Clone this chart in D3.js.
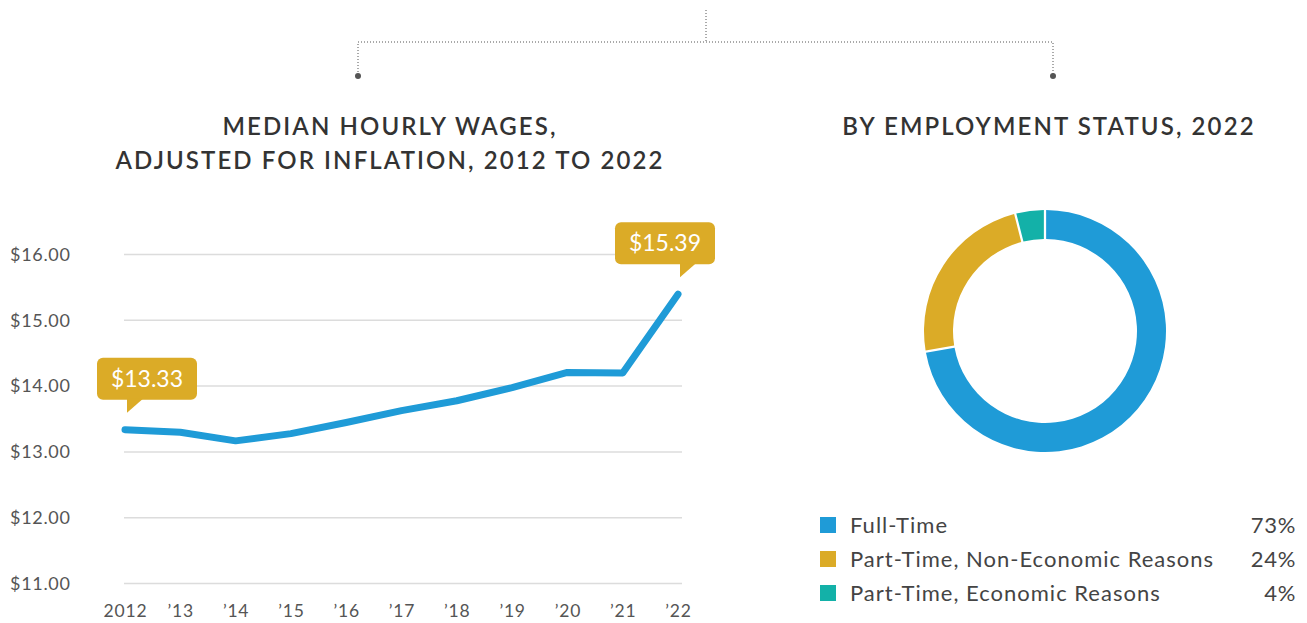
<!DOCTYPE html>
<html>
<head>
<meta charset="utf-8">
<script src="https://cdn.jsdelivr.net/npm/d3@7"></script>
<style>
  body { margin: 0; background: #fff; }
  svg text { font-family: Lato, "Open Sans", sans-serif; }
</style>
</head>
<body>
<div class="chart"></div>
<script>
// Data
var years = [2012, 2013, 2014, 2015, 2016, 2017, 2018, 2019, 2020, 2021, 2022];
var yearLabels = ["2012", "\u201913", "\u201914", "\u201915", "\u201916", "\u201917", "\u201918", "\u201919", "\u201920", "\u201921", "\u201922"];
var wages = [13.33, 13.29, 13.16, 13.27, 13.44, 13.62, 13.77, 13.97, 14.20, 14.19, 15.39];
var wageTicks = [11, 12, 13, 14, 15, 16];

var statusLabels = ["Full-Time", "Part-Time, Non-Economic Reasons", "Part-Time, Economic Reasons"];
var statusShares = [73, 24, 4];
var statusColors = ["#1f9bd7", "#dbab27", "#13b1a8"];

var gold = "#dbab27";

var svg = d3.select(".chart")
  .append("svg")
  .attr("width", 1307)
  .attr("height", 623);

// Bracket at the top
var bracket = svg.append("g")
  .attr("stroke", "#555")
  .attr("stroke-width", 1)
  .attr("stroke-dasharray", "1,2")
  .attr("fill", "none");
bracket.append("path").attr("d", "M706,10 V42");
bracket.append("path").attr("d", "M358,75 V42 H1053 V75");
svg.selectAll(".bdot")
  .data([358, 1053])
  .enter()
  .append("circle")
  .attr("cx", d => d)
  .attr("cy", 76)
  .attr("r", 3)
  .attr("fill", "#555");

// Titles
function title(x, y, txt) {
  svg.append("text")
    .attr("x", x)
    .attr("y", y)
    .attr("text-anchor", "middle")
    .attr("fill", "#333")
    .attr("font-size", 24)
    .attr("font-weight", 600)
    .attr("letter-spacing", 2.1)
    .text(txt);
}
title(390, 135, "MEDIAN HOURLY WAGES,");
title(390, 169, "ADJUSTED FOR INFLATION, 2012 TO 2022");
title(1049, 135, "BY EMPLOYMENT STATUS, 2022");

// Line chart
var x = d3.scaleLinear()
  .domain([2012, 2022])
  .range([125, 678]);

var y = d3.scaleLinear()
  .domain([11, 16])
  .range([583, 254]);

var grid = svg.append("g")
  .call(d3.axisLeft(y)
    .tickValues(wageTicks)
    .tickSize(0)
    .tickFormat(""));
grid.select(".domain").remove();
grid.selectAll(".tick line").remove();
grid.selectAll(".tick").append("line")
  .attr("x1", 124)
  .attr("x2", 682)
  .attr("stroke", "#dcdcdc")
  .attr("stroke-width", 1.5);
grid.selectAll(".tick").append("text")
  .attr("x", 10)
  .attr("dy", "0.35em")
  .attr("text-anchor", "start")
  .attr("fill", "#555")
  .attr("font-size", 18)
  .attr("letter-spacing", 0.7)
  .text(d => "$" + d3.format(".2f")(d));

var xAxis = svg.append("g")
  .attr("transform", "translate(0,611)")
  .call(d3.axisBottom(x)
    .tickValues(years)
    .tickSize(0)
    .tickFormat((d, i) => yearLabels[i]));
xAxis.select(".domain").remove();
xAxis.selectAll("text")
  .attr("y", 0)
  .attr("dy", "0.35em")
  .attr("fill", "#555")
  .attr("font-size", 17.5)
  .attr("letter-spacing", 0.8)
  .attr("font-family", "Lato, sans-serif");

var line = d3.line()
  .x((d, i) => x(years[i]))
  .y(d => y(d));

svg.append("path")
  .datum(wages)
  .attr("d", line)
  .attr("fill", "none")
  .attr("stroke", "#1f9bd7")
  .attr("stroke-width", 7)
  .attr("stroke-linecap", "round")
  .attr("stroke-linejoin", "round");

// Callouts
function callout(i, boxLeft) {
  var px = x(years[i]);
  var py = y(wages[i]);
  var tipY = py - 17;
  var boxBottom = tipY - 13;
  var boxTop = boxBottom - 42;
  var g = svg.append("g");
  g.append("rect")
    .attr("x", boxLeft)
    .attr("y", boxTop)
    .attr("width", 100)
    .attr("height", 42)
    .attr("rx", 6)
    .attr("fill", gold);
  g.append("path")
    .attr("d", `M${px + 2},${tipY} L${px + 2},${boxBottom - 1} L${px + 18},${boxBottom - 1} Z`)
    .attr("fill", gold);
  g.append("text")
    .attr("x", boxLeft + 50)
    .attr("y", boxTop + 29)
    .attr("text-anchor", "middle")
    .attr("fill", "#fff")
    .attr("font-size", 23)
    .text("$" + d3.format(".2f")(wages[i]));
}
callout(0, 97);
callout(10, 615);

// Donut
var pie = d3.pie()
  .sort(null)
  .value(d => d);

var arc = d3.arc()
  .innerRadius(92)
  .outerRadius(121)
  .padAngle(0.015);

svg.append("g")
  .attr("transform", "translate(1045,331)")
  .selectAll("path")
  .data(pie(statusShares))
  .enter()
  .append("path")
  .attr("d", arc)
  .attr("fill", (d, i) => statusColors[i]);

// Legend
var legend = svg.selectAll(".legend")
  .data(statusLabels)
  .enter()
  .append("g")
  .attr("transform", (d, i) => `translate(0, ${525 + i * 34})`);

legend.append("rect")
  .attr("x", 820)
  .attr("y", -8)
  .attr("width", 16)
  .attr("height", 16)
  .attr("fill", (d, i) => statusColors[i]);

legend.append("text")
  .attr("x", 850)
  .attr("dy", "0.35em")
  .attr("fill", "#444")
  .attr("font-size", 22)
  .attr("letter-spacing", 1)
  .text(d => d);

legend.append("text")
  .attr("x", 1296)
  .attr("dy", "0.35em")
  .attr("text-anchor", "end")
  .attr("fill", "#444")
  .attr("font-size", 22)
  .attr("letter-spacing", 0.7)
  .text((d, i) => statusShares[i] + "%");
</script>
</body>
</html>
